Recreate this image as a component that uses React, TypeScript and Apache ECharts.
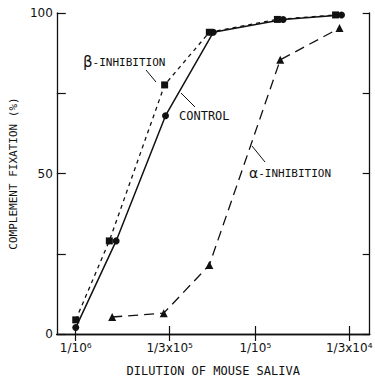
import React, { useEffect, useRef } from "react";
import * as echarts from "echarts";

// x values are log10 of the dilution
const X_TICK_VALUES = [-6, -5.4771, -5, -4.4771];
const X_TICK_LABELS = ["1/10⁶", "1/3x10⁵", "1/10⁵", "1/3x10⁴"];
const Y_LABEL_VALUES = [0, 50, 100];

const controlX = [-6.0, -5.775, -5.5, -5.234, -4.845, -4.52];
const controlY = [2, 29, 68, 94, 98, 99.4];

const betaX = [-6.0, -5.813, -5.505, -5.256, -4.877, -4.553];
const betaY = [4.4, 29, 77.6, 94, 98, 99.4];

const alphaX = [-5.797, -5.51, -5.256, -4.861, -4.531];
const alphaY = [5.3, 6.5, 21.5, 85.4, 95.3];

const X_MIN = -6.1055;
const X_MAX = -4.363;

const FONT = "DejaVu Sans";
const MONO = "DejaVu Sans Mono";

function pairs(xs: number[], ys: number[]) {
  return xs.map((x, i) => [x, ys[i]]);
}

function labelFor(v: number) {
  let best = 0;
  let bd = Infinity;
  X_TICK_VALUES.forEach((t, i) => {
    const d = Math.abs(t - v);
    if (d < bd) {
      bd = d;
      best = i;
    }
  });
  return bd < 0.01 ? X_TICK_LABELS[best] : "";
}

export default function App() {
  const ref = useRef<HTMLDivElement>(null);
  useEffect(() => {
    if (!ref.current) return;
    const chart = echarts.init(ref.current, null, { renderer: "svg" });
    const axisLine = { show: true, lineStyle: { color: "#111", width: 1.3 } };
    chart.setOption({
      animation: false,
      backgroundColor: "#fff",
      grid: { left: 50, right: 3, top: 13, bottom: 48 },
      xAxis: [
        {
          type: "value",
          position: "bottom",
          min: X_MIN,
          max: X_MAX,
          axisLine,
          splitLine: { show: false },
          axisTick: {
            show: true,
            inside: true,
            length: 8,
            customValues: X_TICK_VALUES,
            lineStyle: { color: "#111", width: 1.2 },
          },
          axisLabel: {
            customValues: X_TICK_VALUES,
            formatter: (v: number) => labelFor(v),
            color: "#111",
            fontFamily: FONT,
            fontSize: 12,
            margin: 8,
          },
          name: "DILUTION OF MOUSE SALIVA",
          nameLocation: "middle",
          nameGap: 31,
          nameTextStyle: { color: "#111", fontFamily: MONO, fontSize: 12 },
        },
        {
          type: "value",
          position: "top",
          min: X_MIN,
          max: X_MAX,
          axisLine,
          splitLine: { show: false },
          axisTick: {
            show: true,
            inside: true,
            length: 7,
            customValues: X_TICK_VALUES,
            lineStyle: { color: "#111", width: 1.2 },
          },
          axisLabel: { show: false },
        },
      ],
      yAxis: [
        {
          type: "value",
          position: "left",
          min: 0,
          max: 100,
          interval: 25,
          axisLine,
          splitLine: { show: false },
          axisTick: {
            show: true,
            inside: true,
            length: 9,
            lineStyle: { color: "#111", width: 1.2 },
          },
          axisLabel: {
            customValues: Y_LABEL_VALUES,
            color: "#111",
            fontFamily: FONT,
            fontSize: 12,
            margin: 4,
          },
          name: "COMPLEMENT FIXATION (%)",
          nameLocation: "middle",
          nameGap: 31,
          nameTextStyle: { color: "#111", fontFamily: MONO, fontSize: 11 },
        },
        {
          type: "value",
          position: "right",
          min: 0,
          max: 100,
          interval: 25,
          axisLine,
          splitLine: { show: false },
          axisTick: {
            show: true,
            inside: true,
            length: 7,
            lineStyle: { color: "#111", width: 1.2 },
          },
          axisLabel: { show: false },
        },
      ],
      series: [
        {
          name: "CONTROL",
          type: "line",
          data: pairs(controlX, controlY),
          symbol: "circle",
          symbolSize: 7,
          itemStyle: { color: "#111" },
          lineStyle: { color: "#111", width: 1.5, type: "solid" },
          z: 3,
        },
        {
          name: "β-INHIBITION",
          type: "line",
          data: pairs(betaX, betaY),
          symbol: "rect",
          symbolSize: 7,
          itemStyle: { color: "#111" },
          lineStyle: { color: "#111", width: 1.3, type: [4, 4] },
          z: 3,
        },
        {
          name: "α-INHIBITION",
          type: "line",
          data: pairs(alphaX, alphaY),
          symbol: "triangle",
          symbolSize: 8,
          itemStyle: { color: "#111" },
          lineStyle: { color: "#111", width: 1.3, type: [10, 6] },
          z: 3,
        },
      ],
      graphic: [
        {
          type: "text",
          x: 83,
          y: 62,
          style: {
            text: "{g|β}{t|-INHIBITION}",
            verticalAlign: "middle",
            rich: {
              g: { fontFamily: FONT, fontSize: 15, fill: "#111" },
              t: { fontFamily: MONO, fontSize: 11, fill: "#111" },
            },
          },
        },
        {
          type: "line",
          shape: { x1: 146, y1: 70, x2: 156, y2: 82 },
          style: { stroke: "#111", lineWidth: 1 },
        },
        {
          type: "text",
          x: 179,
          y: 116,
          style: {
            text: "CONTROL",
            verticalAlign: "middle",
            fontFamily: MONO,
            fontSize: 12,
            fill: "#111",
          },
        },
        {
          type: "line",
          shape: { x1: 181, y1: 93, x2: 195, y2: 107 },
          style: { stroke: "#111", lineWidth: 1 },
        },
        {
          type: "text",
          x: 249,
          y: 173,
          style: {
            text: "{g|α}{t|-INHIBITION}",
            verticalAlign: "middle",
            rich: {
              g: { fontFamily: FONT, fontSize: 14, fill: "#111" },
              t: { fontFamily: MONO, fontSize: 11, fill: "#111" },
            },
          },
        },
        {
          type: "line",
          shape: { x1: 252, y1: 146, x2: 265, y2: 162 },
          style: { stroke: "#111", lineWidth: 1 },
        },
      ],
    });
    return () => chart.dispose();
  }, []);
  return <div ref={ref} style={{ width: 375, height: 382, position: "absolute", left: 0, top: 0 }} />;
}
